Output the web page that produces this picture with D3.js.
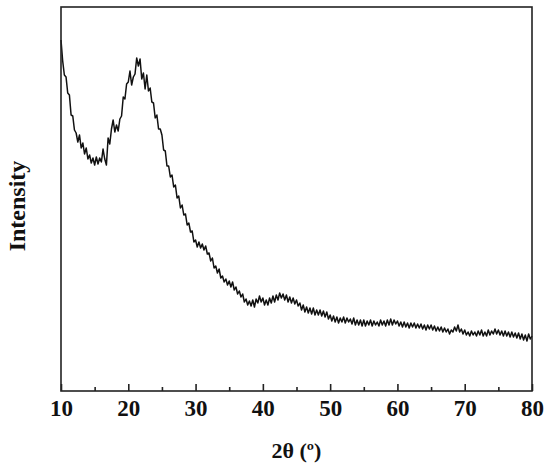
<!DOCTYPE html>
<html>
<head>
<meta charset="utf-8">
<script src="https://cdn.jsdelivr.net/npm/d3@7"></script>
<style>
  html, body { margin: 0; padding: 0; background: #fff; }
  svg { display: block; }
  text { font-family: "Liberation Serif", "Times New Roman", serif; font-weight: bold; fill: #111; }
</style>
</head>
<body>
<svg id="chart" width="550" height="470"></svg>
<script>
// 2θ start, step (degrees)
const twoThetaStart = 10;
const twoThetaStep = 0.25;
// Intensity (a.u.), one row per 5 degrees
const intensity = [
  351,330,316,314,298,296,276,275,261,258,249,256,243,248,237,243,232,236,228,233,
  226,234,227,233,229,242,232,226,253,247,262,271,259,266,260,272,275,294,292,307,
  309,320,306,314,317,333,325,332,312,318,302,316,300,303,289,288,273,276,262,262,
  256,241,240,225,225,214,216,204,206,193,195,183,186,176,177,166,168,159,160,149,
  151,144,149,143,147,141,145,137,138,130,133,123,125,118,122,113,115,109,112,106,
  110,104,109,101,104,97,100,94,97,89,92,86,90,85,91,84,92,88,95,89,
  93,86,91,86,93,88,95,89,96,91,98,93,97,91,96,89,94,88,93,87,
  91,85,88,81,86,79,84,78,83,77,83,76,81,76,81,75,80,74,79,72,
  76,70,75,69,74,68,73,69,74,68,73,69,72,67,73,66,71,66,71,65,
  71,65,70,66,71,65,70,66,69,65,71,66,70,65,71,66,72,66,71,67,
  70,65,69,64,69,64,68,63,68,64,68,63,67,63,67,62,66,61,66,62,
  66,61,65,60,64,60,64,59,63,59,62,57,61,59,64,60,66,59,62,57,
  61,56,59,55,60,56,59,55,60,56,61,55,59,55,61,56,60,57,62,57,
  61,56,60,55,60,55,59,54,59,54,58,53,58,52,57,51,56,50,57,52,
  55
];
const xTicks = [10, 20, 30, 40, 50, 60, 70, 80];
const xMinorTicks = [15, 25, 35, 45, 55, 65, 75];
const xLabel = "2θ (º)";
const yLabel = "Intensity";

const data = intensity.map((v, i) => ({ x: twoThetaStart + i * twoThetaStep, y: v }));

const svg = d3.select("#chart");
const mLeft = 61, mRight = 532, mTop = 7, mBottom = 391;

const x = d3.scaleLinear().domain([10, 80]).range([mLeft, mRight]);
const y = d3.scaleLinear().domain([0, 384]).range([mBottom, mTop]);

// curve
svg.append("path")
  .datum(data)
  .attr("fill", "none")
  .attr("stroke", "#111")
  .attr("stroke-width", 1.5)
  .attr("stroke-linejoin", "round")
  .attr("d", d3.line().x(d => x(d.x)).y(d => y(d.y)));

// frame
svg.append("rect")
  .attr("x", mLeft).attr("y", mTop)
  .attr("width", mRight - mLeft).attr("height", mBottom - mTop)
  .attr("fill", "none").attr("stroke", "#222").attr("stroke-width", 1.6);

// bottom axis, ticks inward
const axisG = svg.append("g").attr("transform", `translate(0,${mBottom})`);
axisG.call(d3.axisBottom(x).tickValues(xTicks).tickSize(-7).tickPadding(9).tickFormat(d3.format("d")));
axisG.select(".domain").remove();
axisG.selectAll(".tick line").attr("stroke", "#222").attr("stroke-width", 1.6);
axisG.selectAll(".tick text")
  .attr("font-size", 23).attr("font-family", "Liberation Serif, Times New Roman, serif")
  .attr("font-weight", "bold").attr("fill", "#111");

const minorG = svg.append("g").attr("transform", `translate(0,${mBottom})`);
minorG.call(d3.axisBottom(x).tickValues(xMinorTicks).tickSize(-4).tickFormat(""));
minorG.select(".domain").remove();
minorG.selectAll(".tick line").attr("stroke", "#222").attr("stroke-width", 1.6);

// axis titles
svg.append("text")
  .attr("x", (mLeft + mRight) / 2).attr("y", 458)
  .attr("text-anchor", "middle").attr("font-size", 22)
  .text(xLabel);

svg.append("text")
  .attr("transform", "translate(25,206) rotate(-90)")
  .attr("text-anchor", "middle").attr("font-size", 24)
  .text(yLabel);
</script>
</body>
</html>
